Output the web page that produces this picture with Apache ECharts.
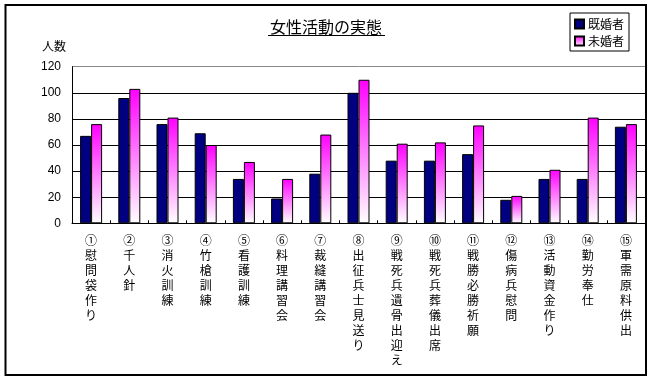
<!DOCTYPE html>
<html>
<head>
<meta charset="utf-8">
<script src="https://cdn.jsdelivr.net/npm/echarts@6/dist/echarts.min.js"></script>
<style>
html,body{margin:0;padding:0;background:#fff;}
#chart{width:652px;height:380px;}
</style>
</head>
<body>
<div id="chart"></div>
<script>
const categories = ['①慰問袋作り','②千人針','③消火訓練','④竹槍訓練','⑤看護訓練','⑥料理講習会','⑦裁縫講習会','⑧出征兵士見送り','⑨戦死兵遺骨出迎え','⑩戦死兵葬儀出席','⑪戦勝必勝祈願','⑫傷病兵慰問','⑬活動資金作り','⑭勤労奉仕','⑮軍需原料供出'];
const married = [67, 96, 76, 69, 34, 19, 38, 100, 48, 48, 53, 18, 34, 34, 74];
const unmarried = [76, 103, 81, 60, 47, 34, 68, 110, 61, 62, 75, 21, 41, 81, 76];
const seriesNames = ['既婚者', '未婚者'];
const yTicks = [0, 20, 40, 60, 80, 100, 120];

const jp = '"Noto Sans CJK JP", "Liberation Sans", sans-serif';
const chart = echarts.init(document.getElementById('chart'));
chart.setOption({
  backgroundColor: '#fff',
  animation: false,
  title: {
    text: '女性活動の実態',
    left: 'center',
    top: 14,
    textStyle: {fontFamily: jp, fontSize: 16, fontWeight: 'normal', color: '#000'}
  },
  legend: {
    orient: 'vertical',
    left: 570,
    top: 13,
    padding: [5, 5, 4, 4],
    itemGap: 5,
    itemWidth: 9,
    itemHeight: 9,
    borderColor: '#000',
    borderWidth: 1,
    backgroundColor: '#fff',
    icon: 'rect',
    textStyle: {fontFamily: jp, fontSize: 12, color: '#000', padding: [0, 0, 0, -1]},
    data: seriesNames
  },
  grid: {left: 72, right: 7, top: 66.7, bottom: 156.7},
  xAxis: {
    type: 'category',
    data: categories,
    axisLine: {lineStyle: {color: '#000', width: 1}},
    axisTick: {show: true, inside: true, length: 3, lineStyle: {color: '#000'}},
    axisLabel: {
      interval: 0,
      margin: 10,
      fontFamily: jp,
      fontSize: 12,
      lineHeight: 15,
      color: '#000',
      formatter: v => Array.from(v).join('\n')
    }
  },
  yAxis: {
    type: 'value',
    min: 0,
    max: 120,
    interval: 20,
    name: '人数',
    nameLocation: 'end',
    nameGap: 14,
    nameTextStyle: {fontFamily: jp, fontSize: 12, color: '#000', align: 'right', padding: [0, 6, 0, 0]},
    axisLine: {show: true, lineStyle: {color: '#000', width: 1}},
    axisTick: {show: false},
    axisLabel: {
      margin: 11,
      fontFamily: '"Liberation Sans", sans-serif',
      fontSize: 12,
      color: '#000',
      formatter: v => yTicks.includes(v) ? String(v) : ''
    },
    splitLine: {show: true, lineStyle: {color: ['#000','#000','#000','#000','#000','#000','#888'], width: 1}}
  },
  series: [
    {
      name: seriesNames[0],
      type: 'bar',
      data: married,
      barWidth: 11,
      barGap: '0%',
      itemStyle: {color: '#000080', borderColor: '#000', borderWidth: 1}
    },
    {
      name: seriesNames[1],
      type: 'bar',
      data: unmarried,
      barWidth: 11,
      barGap: '0%',
      itemStyle: {
        color: new echarts.graphic.LinearGradient(0, 0, 0, 1, [
          {offset: 0, color: '#FF00FF'},
          {offset: 1, color: '#FFFFFF'}
        ]),
        borderColor: '#000',
        borderWidth: 1
      }
    }
  ],
  graphic: [
    {type: 'rect', shape: {x: 5.5, y: 5, width: 640.5, height: 370}, style: {fill: 'none', stroke: '#000', lineWidth: 2}, silent: true, z: 100},
    {type: 'line', shape: {x1: 268, y1: 35.5, x2: 385, y2: 35.5}, style: {stroke: '#000', lineWidth: 1}, silent: true}
  ]
});
</script>
</body>
</html>
